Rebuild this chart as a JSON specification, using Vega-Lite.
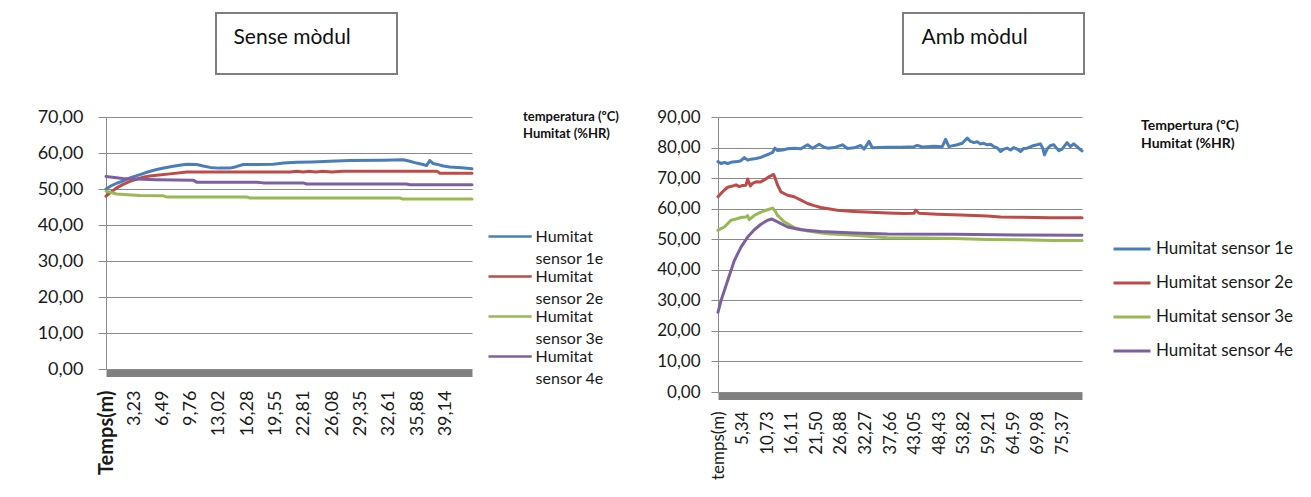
{
  "$schema": "https://vega.github.io/schema/vega-lite/v6.json",
  "background": "white",
  "padding": {"left": 37, "top": 12, "right": 5, "bottom": 5},
  "config": {"font": "Lato", "view": {"stroke": null}, "style": {"guide-label": {"lineHeight": 22}}},
  "datasets": {
    "sense": [
      {"t": 0, "s": "Humitat sensor 1e", "v": 50.0}, {"t": 0.6, "s": "Humitat sensor 1e", "v": 50.9}, {"t": 1.23, "s": "Humitat sensor 1e", "v": 51.6}, {"t": 1.92, "s": "Humitat sensor 1e", "v": 52.2}, {"t": 2.76, "s": "Humitat sensor 1e", "v": 53.1}, {"t": 3.92, "s": "Humitat sensor 1e", "v": 54.0}, {"t": 4.9, "s": "Humitat sensor 1e", "v": 54.8}, {"t": 5.84, "s": "Humitat sensor 1e", "v": 55.4}, {"t": 6.8, "s": "Humitat sensor 1e", "v": 55.9}, {"t": 7.76, "s": "Humitat sensor 1e", "v": 56.3}, {"t": 8.5, "s": "Humitat sensor 1e", "v": 56.6}, {"t": 9.3, "s": "Humitat sensor 1e", "v": 56.9}, {"t": 10.45, "s": "Humitat sensor 1e", "v": 56.8}, {"t": 11.2, "s": "Humitat sensor 1e", "v": 56.4}, {"t": 11.99, "s": "Humitat sensor 1e", "v": 56.0}, {"t": 13.0, "s": "Humitat sensor 1e", "v": 55.8}, {"t": 14.29, "s": "Humitat sensor 1e", "v": 55.8}, {"t": 15.0, "s": "Humitat sensor 1e", "v": 56.2}, {"t": 15.83, "s": "Humitat sensor 1e", "v": 56.8}, {"t": 17.5, "s": "Humitat sensor 1e", "v": 56.8}, {"t": 19.28, "s": "Humitat sensor 1e", "v": 56.9}, {"t": 20.5, "s": "Humitat sensor 1e", "v": 57.2}, {"t": 21.97, "s": "Humitat sensor 1e", "v": 57.4}, {"t": 23.8, "s": "Humitat sensor 1e", "v": 57.5}, {"t": 25.81, "s": "Humitat sensor 1e", "v": 57.7}, {"t": 28.11, "s": "Humitat sensor 1e", "v": 57.9}, {"t": 31.96, "s": "Humitat sensor 1e", "v": 58.0}, {"t": 34.26, "s": "Humitat sensor 1e", "v": 58.1}, {"t": 35.03, "s": "Humitat sensor 1e", "v": 57.7}, {"t": 35.8, "s": "Humitat sensor 1e", "v": 57.2}, {"t": 36.57, "s": "Humitat sensor 1e", "v": 56.8}, {"t": 36.95, "s": "Humitat sensor 1e", "v": 56.5}, {"t": 37.33, "s": "Humitat sensor 1e", "v": 57.9}, {"t": 37.7, "s": "Humitat sensor 1e", "v": 57.1}, {"t": 38.1, "s": "Humitat sensor 1e", "v": 56.9}, {"t": 38.9, "s": "Humitat sensor 1e", "v": 56.4}, {"t": 39.64, "s": "Humitat sensor 1e", "v": 56.1}, {"t": 41.0, "s": "Humitat sensor 1e", "v": 55.9}, {"t": 42.2, "s": "Humitat sensor 1e", "v": 55.6},
      {"t": 0, "s": "Humitat sensor 2e", "v": 48.0}, {"t": 0.6, "s": "Humitat sensor 2e", "v": 49.2}, {"t": 1.23, "s": "Humitat sensor 2e", "v": 50.3}, {"t": 1.92, "s": "Humitat sensor 2e", "v": 51.2}, {"t": 2.76, "s": "Humitat sensor 2e", "v": 52.1}, {"t": 3.5, "s": "Humitat sensor 2e", "v": 52.7}, {"t": 4.3, "s": "Humitat sensor 2e", "v": 53.3}, {"t": 5.07, "s": "Humitat sensor 2e", "v": 53.6}, {"t": 5.84, "s": "Humitat sensor 2e", "v": 53.8}, {"t": 7.37, "s": "Humitat sensor 2e", "v": 54.2}, {"t": 9.3, "s": "Humitat sensor 2e", "v": 54.7}, {"t": 14.29, "s": "Humitat sensor 2e", "v": 54.7}, {"t": 21.2, "s": "Humitat sensor 2e", "v": 54.7}, {"t": 22.0, "s": "Humitat sensor 2e", "v": 54.9}, {"t": 22.74, "s": "Humitat sensor 2e", "v": 54.7}, {"t": 23.3, "s": "Humitat sensor 2e", "v": 54.9}, {"t": 24.2, "s": "Humitat sensor 2e", "v": 54.7}, {"t": 25.0, "s": "Humitat sensor 2e", "v": 54.9}, {"t": 26.0, "s": "Humitat sensor 2e", "v": 54.7}, {"t": 27.35, "s": "Humitat sensor 2e", "v": 54.9}, {"t": 35.0, "s": "Humitat sensor 2e", "v": 54.9}, {"t": 38.2, "s": "Humitat sensor 2e", "v": 54.9}, {"t": 38.49, "s": "Humitat sensor 2e", "v": 54.4}, {"t": 42.2, "s": "Humitat sensor 2e", "v": 54.4},
      {"t": 0, "s": "Humitat sensor 3e", "v": 49.4}, {"t": 1.23, "s": "Humitat sensor 3e", "v": 48.6}, {"t": 2.5, "s": "Humitat sensor 3e", "v": 48.4}, {"t": 3.92, "s": "Humitat sensor 3e", "v": 48.2}, {"t": 6.6, "s": "Humitat sensor 3e", "v": 48.1}, {"t": 6.99, "s": "Humitat sensor 3e", "v": 47.8}, {"t": 16.21, "s": "Humitat sensor 3e", "v": 47.8}, {"t": 16.59, "s": "Humitat sensor 3e", "v": 47.5}, {"t": 33.88, "s": "Humitat sensor 3e", "v": 47.5}, {"t": 34.26, "s": "Humitat sensor 3e", "v": 47.2}, {"t": 42.2, "s": "Humitat sensor 3e", "v": 47.2},
      {"t": 0, "s": "Humitat sensor 4e", "v": 53.5}, {"t": 1.92, "s": "Humitat sensor 4e", "v": 52.9}, {"t": 5.84, "s": "Humitat sensor 4e", "v": 52.6}, {"t": 10.1, "s": "Humitat sensor 4e", "v": 52.4}, {"t": 10.45, "s": "Humitat sensor 4e", "v": 51.9}, {"t": 17.36, "s": "Humitat sensor 4e", "v": 51.9}, {"t": 18.13, "s": "Humitat sensor 4e", "v": 51.7}, {"t": 22.74, "s": "Humitat sensor 4e", "v": 51.7}, {"t": 23.12, "s": "Humitat sensor 4e", "v": 51.4}, {"t": 34.65, "s": "Humitat sensor 4e", "v": 51.4}, {"t": 35.03, "s": "Humitat sensor 4e", "v": 51.2}, {"t": 42.2, "s": "Humitat sensor 4e", "v": 51.2}
    ],
    "amb": [
      {"t": 0, "s": "Humitat sensor 1e", "v": 75.4}, {"t": 0.66, "s": "Humitat sensor 1e", "v": 74.8}, {"t": 1.39, "s": "Humitat sensor 1e", "v": 75.1}, {"t": 2.12, "s": "Humitat sensor 1e", "v": 74.8}, {"t": 3.2, "s": "Humitat sensor 1e", "v": 75.3}, {"t": 4.3, "s": "Humitat sensor 1e", "v": 75.4}, {"t": 5.03, "s": "Humitat sensor 1e", "v": 75.7}, {"t": 5.76, "s": "Humitat sensor 1e", "v": 76.7}, {"t": 6.49, "s": "Humitat sensor 1e", "v": 75.9}, {"t": 7.22, "s": "Humitat sensor 1e", "v": 76.2}, {"t": 8.31, "s": "Humitat sensor 1e", "v": 76.4}, {"t": 9.4, "s": "Humitat sensor 1e", "v": 76.8}, {"t": 10.13, "s": "Humitat sensor 1e", "v": 77.3}, {"t": 11.22, "s": "Humitat sensor 1e", "v": 77.9}, {"t": 11.95, "s": "Humitat sensor 1e", "v": 78.4}, {"t": 12.46, "s": "Humitat sensor 1e", "v": 79.8}, {"t": 13.05, "s": "Humitat sensor 1e", "v": 79.0}, {"t": 14.14, "s": "Humitat sensor 1e", "v": 79.2}, {"t": 15.23, "s": "Humitat sensor 1e", "v": 79.6}, {"t": 16.69, "s": "Humitat sensor 1e", "v": 79.8}, {"t": 18.15, "s": "Humitat sensor 1e", "v": 79.6}, {"t": 19.6, "s": "Humitat sensor 1e", "v": 80.9}, {"t": 20.69, "s": "Humitat sensor 1e", "v": 79.8}, {"t": 22.15, "s": "Humitat sensor 1e", "v": 81.1}, {"t": 23.24, "s": "Humitat sensor 1e", "v": 80.1}, {"t": 23.97, "s": "Humitat sensor 1e", "v": 79.8}, {"t": 25.43, "s": "Humitat sensor 1e", "v": 80.0}, {"t": 27.25, "s": "Humitat sensor 1e", "v": 80.9}, {"t": 28.34, "s": "Humitat sensor 1e", "v": 79.7}, {"t": 29.8, "s": "Humitat sensor 1e", "v": 79.9}, {"t": 31.25, "s": "Humitat sensor 1e", "v": 80.7}, {"t": 31.98, "s": "Humitat sensor 1e", "v": 79.5}, {"t": 33.07, "s": "Humitat sensor 1e", "v": 82.0}, {"t": 33.8, "s": "Humitat sensor 1e", "v": 79.9}, {"t": 35.26, "s": "Humitat sensor 1e", "v": 80.0}, {"t": 37.08, "s": "Humitat sensor 1e", "v": 80.1}, {"t": 39.99, "s": "Humitat sensor 1e", "v": 80.1}, {"t": 42.91, "s": "Humitat sensor 1e", "v": 80.3}, {"t": 43.64, "s": "Humitat sensor 1e", "v": 80.7}, {"t": 44.73, "s": "Humitat sensor 1e", "v": 80.2}, {"t": 45.83, "s": "Humitat sensor 1e", "v": 80.3}, {"t": 47.28, "s": "Humitat sensor 1e", "v": 80.4}, {"t": 49.1, "s": "Humitat sensor 1e", "v": 80.3}, {"t": 49.83, "s": "Humitat sensor 1e", "v": 82.7}, {"t": 50.56, "s": "Humitat sensor 1e", "v": 80.3}, {"t": 51.65, "s": "Humitat sensor 1e", "v": 80.7}, {"t": 52.38, "s": "Humitat sensor 1e", "v": 80.9}, {"t": 53.47, "s": "Humitat sensor 1e", "v": 81.4}, {"t": 54.57, "s": "Humitat sensor 1e", "v": 83.1}, {"t": 55.3, "s": "Humitat sensor 1e", "v": 82.0}, {"t": 56.03, "s": "Humitat sensor 1e", "v": 81.6}, {"t": 56.76, "s": "Humitat sensor 1e", "v": 81.9}, {"t": 57.48, "s": "Humitat sensor 1e", "v": 81.2}, {"t": 58.21, "s": "Humitat sensor 1e", "v": 81.4}, {"t": 58.94, "s": "Humitat sensor 1e", "v": 80.9}, {"t": 59.67, "s": "Humitat sensor 1e", "v": 81.1}, {"t": 60.4, "s": "Humitat sensor 1e", "v": 80.3}, {"t": 61.12, "s": "Humitat sensor 1e", "v": 79.9}, {"t": 61.85, "s": "Humitat sensor 1e", "v": 78.7}, {"t": 62.58, "s": "Humitat sensor 1e", "v": 79.5}, {"t": 63.31, "s": "Humitat sensor 1e", "v": 79.8}, {"t": 64.04, "s": "Humitat sensor 1e", "v": 79.2}, {"t": 64.77, "s": "Humitat sensor 1e", "v": 80.0}, {"t": 65.5, "s": "Humitat sensor 1e", "v": 79.5}, {"t": 66.22, "s": "Humitat sensor 1e", "v": 78.7}, {"t": 66.95, "s": "Humitat sensor 1e", "v": 79.7}, {"t": 67.68, "s": "Humitat sensor 1e", "v": 79.8}, {"t": 68.77, "s": "Humitat sensor 1e", "v": 80.5}, {"t": 69.86, "s": "Humitat sensor 1e", "v": 80.9}, {"t": 70.59, "s": "Humitat sensor 1e", "v": 81.2}, {"t": 71.1, "s": "Humitat sensor 1e", "v": 79.8}, {"t": 71.47, "s": "Humitat sensor 1e", "v": 77.6}, {"t": 72.05, "s": "Humitat sensor 1e", "v": 79.5}, {"t": 72.78, "s": "Humitat sensor 1e", "v": 80.7}, {"t": 73.5, "s": "Humitat sensor 1e", "v": 80.9}, {"t": 74.6, "s": "Humitat sensor 1e", "v": 79.0}, {"t": 75.33, "s": "Humitat sensor 1e", "v": 79.5}, {"t": 76.42, "s": "Humitat sensor 1e", "v": 81.6}, {"t": 77.15, "s": "Humitat sensor 1e", "v": 80.3}, {"t": 77.87, "s": "Humitat sensor 1e", "v": 81.2}, {"t": 78.74, "s": "Humitat sensor 1e", "v": 80.1}, {"t": 79.69, "s": "Humitat sensor 1e", "v": 78.9},
      {"t": 0, "s": "Humitat sensor 2e", "v": 63.9}, {"t": 0.66, "s": "Humitat sensor 2e", "v": 65.0}, {"t": 1.39, "s": "Humitat sensor 2e", "v": 66.1}, {"t": 2.12, "s": "Humitat sensor 2e", "v": 67.0}, {"t": 3.2, "s": "Humitat sensor 2e", "v": 67.4}, {"t": 3.94, "s": "Humitat sensor 2e", "v": 67.8}, {"t": 4.67, "s": "Humitat sensor 2e", "v": 67.2}, {"t": 5.4, "s": "Humitat sensor 2e", "v": 67.6}, {"t": 6.12, "s": "Humitat sensor 2e", "v": 67.7}, {"t": 6.49, "s": "Humitat sensor 2e", "v": 69.7}, {"t": 7.07, "s": "Humitat sensor 2e", "v": 67.4}, {"t": 7.58, "s": "Humitat sensor 2e", "v": 68.3}, {"t": 8.31, "s": "Humitat sensor 2e", "v": 68.8}, {"t": 9.26, "s": "Humitat sensor 2e", "v": 68.7}, {"t": 10.13, "s": "Humitat sensor 2e", "v": 69.4}, {"t": 11.22, "s": "Humitat sensor 2e", "v": 70.5}, {"t": 12.17, "s": "Humitat sensor 2e", "v": 71.2}, {"t": 12.53, "s": "Humitat sensor 2e", "v": 69.9}, {"t": 13.05, "s": "Humitat sensor 2e", "v": 67.7}, {"t": 13.77, "s": "Humitat sensor 2e", "v": 65.5}, {"t": 15.23, "s": "Humitat sensor 2e", "v": 64.4}, {"t": 16.69, "s": "Humitat sensor 2e", "v": 63.9}, {"t": 18.15, "s": "Humitat sensor 2e", "v": 62.8}, {"t": 19.6, "s": "Humitat sensor 2e", "v": 61.7}, {"t": 21.06, "s": "Humitat sensor 2e", "v": 61.0}, {"t": 22.51, "s": "Humitat sensor 2e", "v": 60.4}, {"t": 26.15, "s": "Humitat sensor 2e", "v": 59.5}, {"t": 29.8, "s": "Humitat sensor 2e", "v": 59.1}, {"t": 33.44, "s": "Humitat sensor 2e", "v": 58.8}, {"t": 37.08, "s": "Humitat sensor 2e", "v": 58.6}, {"t": 40.72, "s": "Humitat sensor 2e", "v": 58.4}, {"t": 42.91, "s": "Humitat sensor 2e", "v": 58.5}, {"t": 43.28, "s": "Humitat sensor 2e", "v": 59.5}, {"t": 44.0, "s": "Humitat sensor 2e", "v": 58.5}, {"t": 48.01, "s": "Humitat sensor 2e", "v": 58.2}, {"t": 53.11, "s": "Humitat sensor 2e", "v": 57.9}, {"t": 58.94, "s": "Humitat sensor 2e", "v": 57.6}, {"t": 61.85, "s": "Humitat sensor 2e", "v": 57.3}, {"t": 66.22, "s": "Humitat sensor 2e", "v": 57.2}, {"t": 72.78, "s": "Humitat sensor 2e", "v": 57.0}, {"t": 79.69, "s": "Humitat sensor 2e", "v": 57.0},
      {"t": 0, "s": "Humitat sensor 3e", "v": 52.9}, {"t": 0.66, "s": "Humitat sensor 3e", "v": 53.5}, {"t": 1.39, "s": "Humitat sensor 3e", "v": 54.0}, {"t": 2.12, "s": "Humitat sensor 3e", "v": 55.1}, {"t": 2.85, "s": "Humitat sensor 3e", "v": 56.2}, {"t": 3.94, "s": "Humitat sensor 3e", "v": 56.6}, {"t": 5.03, "s": "Humitat sensor 3e", "v": 57.1}, {"t": 6.12, "s": "Humitat sensor 3e", "v": 57.3}, {"t": 6.49, "s": "Humitat sensor 3e", "v": 57.7}, {"t": 6.85, "s": "Humitat sensor 3e", "v": 56.4}, {"t": 7.95, "s": "Humitat sensor 3e", "v": 57.8}, {"t": 9.04, "s": "Humitat sensor 3e", "v": 58.6}, {"t": 10.13, "s": "Humitat sensor 3e", "v": 59.3}, {"t": 11.22, "s": "Humitat sensor 3e", "v": 59.8}, {"t": 11.95, "s": "Humitat sensor 3e", "v": 60.2}, {"t": 12.46, "s": "Humitat sensor 3e", "v": 59.3}, {"t": 13.05, "s": "Humitat sensor 3e", "v": 57.8}, {"t": 14.5, "s": "Humitat sensor 3e", "v": 55.7}, {"t": 16.69, "s": "Humitat sensor 3e", "v": 53.8}, {"t": 19.6, "s": "Humitat sensor 3e", "v": 52.7}, {"t": 23.97, "s": "Humitat sensor 3e", "v": 51.8}, {"t": 29.8, "s": "Humitat sensor 3e", "v": 51.3}, {"t": 37.08, "s": "Humitat sensor 3e", "v": 50.5}, {"t": 44.37, "s": "Humitat sensor 3e", "v": 50.4}, {"t": 51.65, "s": "Humitat sensor 3e", "v": 50.2}, {"t": 58.94, "s": "Humitat sensor 3e", "v": 49.9}, {"t": 66.22, "s": "Humitat sensor 3e", "v": 49.8}, {"t": 73.5, "s": "Humitat sensor 3e", "v": 49.6}, {"t": 79.69, "s": "Humitat sensor 3e", "v": 49.6},
      {"t": 0, "s": "Humitat sensor 4e", "v": 26.1}, {"t": 0.66, "s": "Humitat sensor 4e", "v": 29.9}, {"t": 2.12, "s": "Humitat sensor 4e", "v": 36.5}, {"t": 3.57, "s": "Humitat sensor 4e", "v": 43.0}, {"t": 5.03, "s": "Humitat sensor 4e", "v": 47.4}, {"t": 6.49, "s": "Humitat sensor 4e", "v": 50.7}, {"t": 7.95, "s": "Humitat sensor 4e", "v": 53.1}, {"t": 9.4, "s": "Humitat sensor 4e", "v": 54.9}, {"t": 10.86, "s": "Humitat sensor 4e", "v": 56.2}, {"t": 11.81, "s": "Humitat sensor 4e", "v": 56.6}, {"t": 13.05, "s": "Humitat sensor 4e", "v": 55.7}, {"t": 15.23, "s": "Humitat sensor 4e", "v": 54.0}, {"t": 18.15, "s": "Humitat sensor 4e", "v": 53.1}, {"t": 22.51, "s": "Humitat sensor 4e", "v": 52.5}, {"t": 29.8, "s": "Humitat sensor 4e", "v": 52.0}, {"t": 37.08, "s": "Humitat sensor 4e", "v": 51.7}, {"t": 51.65, "s": "Humitat sensor 4e", "v": 51.6}, {"t": 66.22, "s": "Humitat sensor 4e", "v": 51.4}, {"t": 79.69, "s": "Humitat sensor 4e", "v": 51.3}
    ]
  },
  "spacing": 33,
  "vconcat": [
    {
      "spacing": 0,
      "hconcat": [
        {"width": 109, "height": 61, "data": {"values": []}, "mark": "point"},
        {
          "spacing": 504,
          "hconcat": [
            {
              "width": 181, "height": 61,
              "view": {"stroke": "#7f7f7f", "strokeWidth": 2},
              "data": {"values": [{"titol": "Sense mòdul"}]},
              "mark": {"type": "text", "font": "Lato", "fontSize": 21, "align": "left", "baseline": "middle", "dx": -73, "dy": -6, "color": "#111111"},
              "encoding": {"text": {"field": "titol", "type": "nominal"}}
            },
            {
              "width": 181, "height": 61,
              "view": {"stroke": "#7f7f7f", "strokeWidth": 2},
              "data": {"values": [{"titol": "Amb mòdul"}]},
              "mark": {"type": "text", "font": "Lato", "fontSize": 21, "align": "left", "baseline": "middle", "dx": -72, "dy": -6, "color": "#111111"},
              "encoding": {"text": {"field": "titol", "type": "nominal"}}
            }
          ]
        }
      ]
    },
    {
      "spacing": 37,
      "resolve": {"scale": {"color": "independent"}, "legend": {"color": "independent"}},
      "hconcat": [
        {
          "width": 366, "height": 252,
          "data": {"name": "sense"},
          "title": {"text": ["temperatura (ºC)", "Humitat (%HR)"], "anchor": "start", "frame": "group", "align": "left", "dx": 417, "dy": 33, "font": "Lato", "fontSize": 13, "fontWeight": "bold", "lineHeight": 17, "color": "#111111", "offset": 0},
          "mark": {"type": "line", "strokeWidth": 3, "strokeJoin": "round", "strokeCap": "round"},
          "encoding": {
            "x": {"field": "t", "type": "quantitative", "scale": {"domain": [0, 42.2], "nice": false, "zero": false},
              "axis": {"values": [0, 3.23, 6.49, 9.76, 13.02, 16.28, 19.55, 22.81, 26.08, 29.35, 32.61, 35.88, 39.14],
                "labelExpr": "datum.value == 0 ? 'Temps(m)' : replace(format(datum.value, '.2f'), '.', ',')",
                "title": null, "grid": false, "ticks": false, "tickSize": 0, "domainColor": "#808080", "domainWidth": 7, "offset": 4,
                "labelAngle": -90, "labelPadding": 17, "labelFont": "Lato",
                "labelFontSize": {"condition": {"test": "datum.value == 0", "value": 20}, "value": 18},
                "labelFontWeight": {"condition": {"test": "datum.value == 0", "value": "bold"}, "value": "normal"},
                "labelColor": "#1a1a1a", "labelOverlap": false, "labelFlush": false, "labelBound": false}},
            "y": {"field": "v", "type": "quantitative", "scale": {"domain": [0, 70], "nice": false},
              "axis": {"values": [0, 10, 20, 30, 40, 50, 60, 70], "labelExpr": "replace(format(datum.value, '.2f'), '.', ',')",
                "title": null, "grid": true, "gridColor": "#8a8a8a", "domainColor": "#8a8a8a", "tickColor": "#8a8a8a", "tickSize": 8,
                "labelPadding": 15, "labelFont": "Lato", "labelFontSize": 18, "labelColor": "#1a1a1a"}},
            "color": {"field": "s", "type": "nominal",
              "scale": {"domain": ["Humitat sensor 1e", "Humitat sensor 2e", "Humitat sensor 3e", "Humitat sensor 4e"], "range": ["#4A7EBB", "#BE4B48", "#98B954", "#7D60A0"]},
              "legend": {"orient": "none", "legendX": 381, "legendY": 110, "title": null, "symbolType": "M-2.7,0L2.7,0", "symbolSize": 256, "symbolOffset": 13.6, "symbolStrokeWidth": 2.5,
                "labelFont": "Lato", "labelFontSize": 16, "labelColor": "#1a1a1a", "labelOffset": 16, "labelLimit": 0, "rowPadding": 0,
                "labelExpr": "['Humitat', 'sensor ' + slice(datum.label, 15)]"}}
          }
        },
        {
          "width": 364, "height": 275,
          "data": {"name": "amb"},
          "title": {"text": ["Tempertura (ºC)", "Humitat (%HR)"], "anchor": "start", "frame": "group", "align": "left", "dx": 423, "dy": 43, "font": "Lato", "fontSize": 14, "fontWeight": "bold", "lineHeight": 18, "color": "#111111", "offset": 0},
          "mark": {"type": "line", "strokeWidth": 3, "strokeJoin": "round", "strokeCap": "round"},
          "encoding": {
            "x": {"field": "t", "type": "quantitative", "scale": {"domain": [0, 79.69], "nice": false, "zero": false},
              "axis": {"values": [0, 5.34, 10.73, 16.11, 21.5, 26.88, 32.27, 37.66, 43.05, 48.43, 53.82, 59.21, 64.59, 69.98, 75.37],
                "labelExpr": "datum.value == 0 ? 'temps(m)' : replace(format(datum.value, '.2f'), '.', ',')",
                "title": null, "grid": false, "ticks": false, "tickSize": 0, "domainColor": "#808080", "domainWidth": 7, "offset": 4,
                "labelAngle": -90, "labelPadding": 15, "labelFont": "Lato", "labelFontSize": 17,
                "labelColor": "#1a1a1a", "labelOverlap": false, "labelFlush": false, "labelBound": false}},
            "y": {"field": "v", "type": "quantitative", "scale": {"domain": [0, 90], "nice": false},
              "axis": {"values": [0, 10, 20, 30, 40, 50, 60, 70, 80, 90], "labelExpr": "replace(format(datum.value, '.2f'), '.', ',')",
                "title": null, "grid": true, "gridColor": "#8a8a8a", "domainColor": "#8a8a8a", "tickColor": "#8a8a8a", "tickSize": 7,
                "labelPadding": 11, "labelFont": "Lato", "labelFontSize": 17, "labelColor": "#1a1a1a"}},
            "color": {"field": "s", "type": "nominal",
              "scale": {"domain": ["Humitat sensor 1e", "Humitat sensor 2e", "Humitat sensor 3e", "Humitat sensor 4e"], "range": ["#4A7EBB", "#BE4B48", "#98B954", "#7D60A0"]},
              "legend": {"orient": "none", "legendX": 394, "legendY": 112, "title": null, "symbolType": "stroke", "symbolSize": 1369, "symbolStrokeWidth": 3,
                "labelFont": "Lato", "labelFontSize": 17, "labelColor": "#1a1a1a", "labelOffset": 4, "labelLimit": 0, "rowPadding": 6,
                "labelExpr": "datum.label == 'Humitat sensor 1e' ? 'Humitat sensor  1e' : datum.label"}}
          }
        }
      ]
    }
  ]
}
